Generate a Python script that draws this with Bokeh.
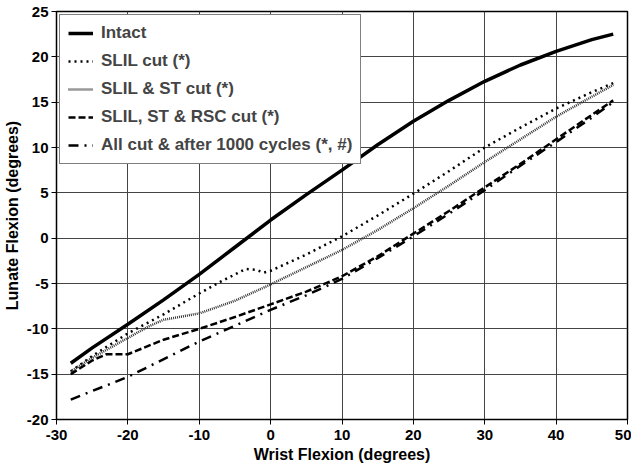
from bokeh.plotting import figure
from bokeh.models import FixedTicker, Range1d
from bokeh.embed import file_html
from bokeh.resources import INLINE

# Data
x_intact = [-28, -25, -20, -15, -10, -5, 0, 5, 10, 15, 20, 25, 30, 35, 40, 45, 48]
y_intact = [-13.8, -12.1, -9.5, -6.8, -4.0, -1.0, 2.0, 4.8, 7.5, 10.3, 12.9, 15.2, 17.3, 19.1, 20.6, 21.9, 22.5]

x_slil = [-28, -25, -20, -15, -10, -7, -5, -3.5, -2, -1, 0, 5, 10, 15, 20, 25, 30, 35, 40, 45, 48]
y_slil = [-14.7, -13.0, -10.5, -8.4, -6.1, -4.8, -4.0, -3.4, -3.5, -3.8, -3.6, -1.8, 0.2, 2.5, 4.9, 7.4, 10.0, 12.2, 14.3, 16.1, 17.1]

x_slil_st = [-28, -25, -20, -17, -15, -10, -5, 0, 5, 10, 15, 20, 25, 30, 35, 40, 45, 48]
y_slil_st = [-14.7, -13.2, -11.0, -9.7, -9.0, -8.3, -6.9, -5.1, -3.2, -1.3, 0.9, 3.3, 5.8, 8.4, 10.9, 13.4, 15.6, 16.9]

x_rsc = [-28, -25, -23, -20, -15, -10, -5, 0, 5, 10, 15, 20, 25, 30, 35, 40, 45, 48]
y_rsc = [-15.0, -13.5, -12.8, -12.8, -11.2, -10.0, -8.7, -7.3, -5.9, -4.2, -2.0, 0.5, 3.0, 5.6, 8.2, 10.9, 13.6, 15.2]

x_all = [-28, -20, -10, 0, 5, 10, 15, 20, 25, 30, 35, 40, 45, 48]
y_all = [-17.8, -15.3, -11.4, -7.9, -6.3, -4.5, -2.2, 0.2, 2.7, 5.3, 8.0, 10.6, 13.3, 15.0]

x_ticks = [-30, -20, -10, 0, 10, 20, 30, 40, 50]
y_ticks = [-20, -15, -10, -5, 0, 5, 10, 15, 20, 25]

FONT = "Liberation Sans"

p = figure(width=631, height=465, output_backend="svg", toolbar_location=None,
           x_range=Range1d(-30, 50), y_range=Range1d(-20, 25),
           min_border_left=55, min_border_right=4, min_border_top=11, min_border_bottom=46)
p.background_fill_color = "white"
p.border_fill_color = "white"
p.outline_line_color = "black"
p.outline_line_width = 1.5

p.line(x_intact, y_intact, line_color="black", line_width=3.5, legend_label="Intact")
p.line(x_slil, y_slil, line_color="black", line_width=2.5, line_dash="2 4", legend_label="SLIL cut (*)")
p.line(x_slil_st, y_slil_st, line_color="#333333", line_width=2.5, line_dash="1 1", legend_label="SLIL & ST cut (*)")
p.line(x_rsc, y_rsc, line_color="black", line_width=2.5, line_dash="7 3", legend_label="SLIL, ST & RSC cut (*)")
p.line(x_all, y_all, line_color="black", line_width=2.5, line_dash="10 6 2 6", legend_label="All cut & after 1000 cycles (*, #)")

for ax in (p.xaxis[0], p.yaxis[0]):
    ax.axis_line_color = "black"
    ax.major_tick_in = 0
    ax.major_tick_out = 5
    ax.minor_tick_line_color = None
    ax.major_label_text_font = FONT
    ax.major_label_text_font_style = "bold"
    ax.major_label_text_font_size = "15px"
    ax.major_label_text_color = "black"
    ax.axis_label_text_font = FONT
    ax.axis_label_text_font_style = "bold"
    ax.axis_label_text_font_size = "16px"
    ax.axis_label_text_color = "black"

p.xaxis.major_label_standoff = 5
p.xaxis.axis_label_standoff = 3
p.yaxis.major_label_standoff = 3
p.yaxis.axis_label_standoff = 3

p.xaxis.ticker = FixedTicker(ticks=x_ticks)
p.yaxis.ticker = FixedTicker(ticks=y_ticks)
p.xaxis.major_label_overrides = {t: str(t) for t in x_ticks}
p.yaxis.major_label_overrides = {t: str(t) for t in y_ticks}
p.xaxis.axis_label = "Wrist Flexion (degrees)"
p.yaxis.axis_label = "Lunate Flexion (degrees)"

p.grid.grid_line_color = "#444444"
p.grid.grid_line_width = 1

lg = p.legend[0]
lg.location = "top_left"
lg.margin = 3
lg.padding = 8
lg.spacing = 8
lg.label_height = 20
lg.glyph_height = 20
lg.glyph_width = 25
lg.label_standoff = 8
lg.label_text_font = FONT
lg.label_text_font_style = "bold"
lg.label_text_font_size = "17px"
lg.border_line_color = "black"
lg.border_line_width = 1.5
lg.background_fill_color = "white"
lg.background_fill_alpha = 1

open("out.html", "w").write(file_html(p, INLINE))
